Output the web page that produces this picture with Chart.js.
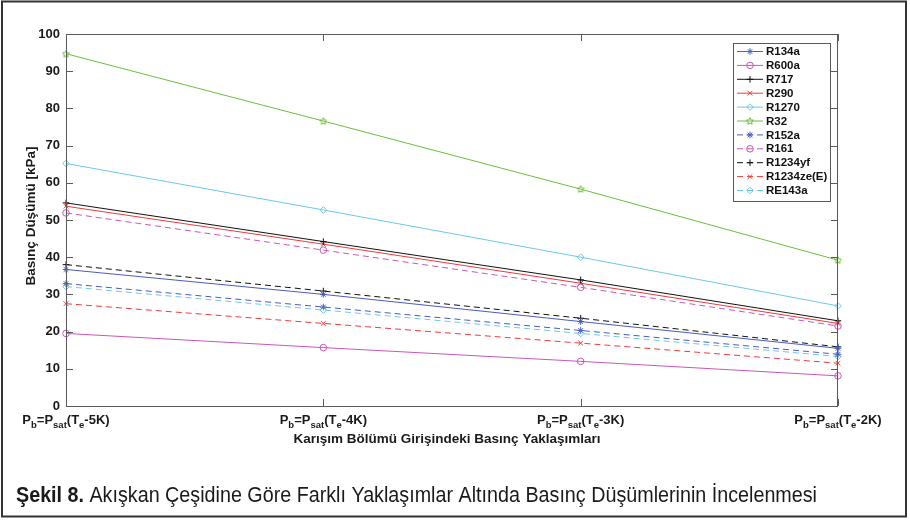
<!DOCTYPE html>
<html>
<head>
<meta charset="utf-8">
<script src="https://cdn.jsdelivr.net/npm/chart.js@4.4.1/dist/chart.umd.min.js"></script>
<style>
  html, body { margin: 0; padding: 0; background: #fff; }
  #wrap { width: 910px; height: 520px; }
</style>
</head>
<body>
<div id="wrap"><canvas id="dropChart" width="910" height="520"></canvas></div>
<script>
// Approaches at the mixing section inlet: Pb = Psat(Te - nK)
const categories = ['-5K', '-4K', '-3K', '-2K'];
const yMin = 0, yMax = 100, yStep = 10;

// Pressure drop [kPa] per refrigerant
const r134a   = [36.7, 30.0, 22.7, 15.5];
const r600a   = [19.5, 15.7, 12.0, 8.1];
const r717    = [54.6, 44.2, 33.9, 22.9];
const r290    = [53.7, 43.5, 33.0, 22.2];
const r1270   = [65.2, 52.7, 40.0, 26.9];
const r32     = [94.7, 76.6, 58.3, 39.2];
const r152a   = [32.9, 26.6, 20.3, 13.9];
const r161    = [51.9, 41.9, 31.9, 21.5];
const r1234yf = [38.0, 30.9, 23.6, 15.9];
const r1234ze = [27.5, 22.2, 16.9, 11.5];
const re143a  = [32.1, 25.8, 19.5, 13.3];

const BLUE = '#4a5cc0', MAGENTA = '#cc55bb', BLACK = '#111111',
      RED = '#f03a3a', CYAN = '#6cc9e6', GREEN = '#6cbf3c';

// small hollow star used for R32
function makePentagram(color) {
    const c = document.createElement('canvas');
    c.width = 8; c.height = 8;
    const g = c.getContext('2d');
    g.strokeStyle = color;
    g.lineWidth = 1;
    g.beginPath();
    for (let i = 0; i < 10; i++) {
        const r = i % 2 === 0 ? 3.6 : 1.8;
        const a = -Math.PI / 2 + i * Math.PI / 5;
        const px = 4 + r * Math.cos(a), py = 4.3 + r * Math.sin(a);
        if (i === 0) g.moveTo(px, py); else g.lineTo(px, py);
    }
    g.closePath();
    g.stroke();
    return c;
}

function series(label, data, color, marker, dashed) {
    return {
        label,
        data,
        borderColor: color,
        backgroundColor: 'rgba(0,0,0,0)',
        pointBorderColor: color,
        pointBackgroundColor: 'rgba(0,0,0,0)',
        pointStyle: marker,
        pointRadius: 3.3,
        pointBorderWidth: 1,
        borderWidth: 1,
        borderDash: dashed ? [6, 4] : [],
        tension: 0,
        fill: false
    };
}

const datasets = [
    series('R134a', r134a, BLUE, 'star', false),
    series('R600a', r600a, MAGENTA, 'circle', false),
    series('R717', r717, BLACK, 'cross', false),
    series('R290', r290, RED, 'crossRot', false),
    series('R1270', r1270, CYAN, 'rectRot', false),
    series('R32', r32, GREEN, makePentagram(GREEN), false),
    series('R152a', r152a, BLUE, 'star', true),
    series('R161', r161, MAGENTA, 'circle', true),
    series('R1234yf', r1234yf, BLACK, 'cross', true),
    series('R1234ze(E)', r1234ze, RED, 'crossRot', true),
    series('RE143a', re143a, CYAN, 'rectRot', true)
];

const FONT = '"Liberation Sans", Arial, Helvetica, sans-serif';

// draws P_b=P_sat(T_e-nK) with real subscripts, centred on cx
function drawApproachLabel(ctx, cat, cx, base) {
    const parts = [
        ['P', 0], ['b', 1], ['=P', 0], ['sat', 1], ['(T', 0], ['e', 1], [cat + ')', 0]
    ];
    const mainFont = 'bold 13px ' + FONT, subFont = 'bold 9.5px ' + FONT;
    let total = 0;
    parts.forEach(([t, s]) => { ctx.font = s ? subFont : mainFont; total += ctx.measureText(t).width; });
    let x = cx - total / 2;
    ctx.textAlign = 'left';
    ctx.textBaseline = 'alphabetic';
    parts.forEach(([t, s]) => {
        ctx.font = s ? subFont : mainFont;
        ctx.fillText(t, x, s ? base + 4 : base);
        x += ctx.measureText(t).width;
    });
}

const framePlugin = {
    id: 'framePlugin',
    afterDraw(chart) {
        const { ctx, chartArea: a, scales } = chart;
        const x = scales.x, y = scales.y;
        ctx.save();

        // axes box with inward ticks
        ctx.strokeStyle = '#5a5a5a';
        ctx.lineWidth = 1;
        ctx.setLineDash([]);
        ctx.strokeRect(Math.round(a.left) + 0.5, Math.round(a.top) + 0.5,
                       Math.round(a.width) - 1, Math.round(a.height));
        ctx.beginPath();
        for (let v = yMin; v <= yMax; v += yStep) {
            const py = Math.round(y.getPixelForValue(v)) + 0.5;
            ctx.moveTo(a.left, py); ctx.lineTo(a.left + 7, py);
            ctx.moveTo(a.right, py); ctx.lineTo(a.right - 7, py);
        }
        categories.forEach((c, i) => {
            const px = Math.round(x.getPixelForValue(i)) + 0.5;
            ctx.moveTo(px, a.bottom); ctx.lineTo(px, a.bottom - 7);
            ctx.moveTo(px, a.top); ctx.lineTo(px, a.top + 7);
        });
        ctx.stroke();

        // category labels
        ctx.fillStyle = '#1a1a1a';
        categories.forEach((c, i) => {
            drawApproachLabel(ctx, c, x.getPixelForValue(i), a.bottom + 18);
        });

        // axis titles
        ctx.font = 'bold 13.5px ' + FONT;
        ctx.textAlign = 'center';
        ctx.textBaseline = 'middle';
        ctx.fillText('Karışım Bölümü Girişindeki Basınç Yaklaşımları', 447, 439);
        ctx.save();
        ctx.translate(31, (a.top + a.bottom) / 2 - 4);
        ctx.rotate(-Math.PI / 2);
        ctx.fillText('Basınç Düşümü [kPa]', 0, 0);
        ctx.restore();

        // legend box
        const lx = 733, ly = 43, lw = 97, lh = 158, row = 13.9;
        ctx.fillStyle = '#ffffff';
        ctx.fillRect(lx, ly, lw, lh);
        ctx.strokeStyle = '#5a5a5a';
        ctx.strokeRect(lx + 0.5, ly + 0.5, lw, lh);
        chart.data.datasets.forEach((ds, i) => {
            const ry = ly + 8 + i * row;
            ctx.strokeStyle = ds.borderColor;
            ctx.lineWidth = 1;
            ctx.setLineDash(ds.borderDash);
            ctx.beginPath();
            ctx.moveTo(lx + 4, ry + 0.5);
            ctx.lineTo(lx + 30, ry + 0.5);
            ctx.stroke();
            ctx.setLineDash([]);
            ctx.fillStyle = 'rgba(0,0,0,0)';
            Chart.helpers.drawPoint(ctx, { pointStyle: ds.pointStyle, radius: 3.3, borderWidth: 1, rotation: 0 },
                                    lx + 17, ry + 0.5);
            ctx.fillStyle = '#111111';
            ctx.font = 'bold 11.5px ' + FONT;
            ctx.textAlign = 'left';
            ctx.textBaseline = 'middle';
            ctx.fillText(ds.label, lx + 33, ry + 1);
        });

        // figure caption, condensed to the figure width
        const bold = 'Şekil 8.';
        const rest = ' Akışkan Çeşidine Göre Farklı Yaklaşımlar Altında Basınç Düşümlerinin İncelenmesi';
        ctx.font = 'bold 22px ' + FONT;
        const wb = ctx.measureText(bold).width;
        ctx.font = '22px ' + FONT;
        const wr = ctx.measureText(rest).width;
        const sx = 801 / (wb + wr);
        ctx.save();
        ctx.translate(16, 502);
        ctx.scale(sx, 1);
        ctx.fillStyle = '#1a1a1a';
        ctx.textAlign = 'left';
        ctx.textBaseline = 'alphabetic';
        ctx.font = 'bold 22px ' + FONT;
        ctx.fillText(bold, 0, 0);
        ctx.font = '22px ' + FONT;
        ctx.fillText(rest, wb, 0);
        ctx.restore();

        // outer figure frame
        ctx.strokeStyle = '#333333';
        ctx.lineWidth = 2;
        ctx.strokeRect(2, 1.5, 904, 515);
        ctx.restore();
    }
};

new Chart(document.getElementById('dropChart').getContext('2d'), {
    type: 'line',
    data: { labels: categories, datasets: datasets },
    options: {
        responsive: false,
        animation: false,
        layout: { padding: { left: 0, top: 34, right: 72, bottom: 114 } },
        plugins: {
            legend: { display: false },
            tooltip: { enabled: false }
        },
        scales: {
            x: {
                type: 'category',
                offset: false,
                display: false
            },
            y: {
                min: yMin,
                max: yMax,
                afterFit(scale) { scale.width = 66; },
                grid: { display: false, drawTicks: false },
                border: { display: false },
                ticks: {
                    stepSize: yStep,
                    padding: 6,
                    color: '#1a1a1a',
                    font: { family: FONT, size: 13, weight: 'bold' }
                }
            }
        }
    },
    plugins: [framePlugin]
});
</script>
</body>
</html>
